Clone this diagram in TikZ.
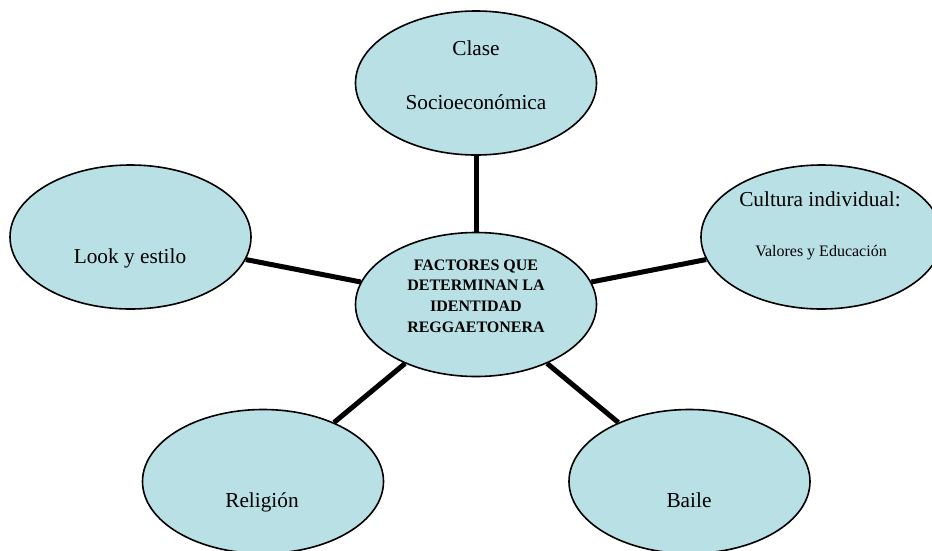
\documentclass[tikz,border=0pt]{standalone}
\usepackage{fontspec}
\setmainfont{Liberation Serif}
\usetikzlibrary{shapes.geometric}
\definecolor{bubblefill}{RGB}{185,224,228}
\begin{document}
\begin{tikzpicture}[x=1pt,y=-1pt,
  bubble/.style={ellipse, draw=black, line width=1.6pt, fill=bubblefill,
    minimum width=241pt, minimum height=144pt, inner sep=0pt},
  link/.style={line width=5pt, draw=black},
  big/.style={font=\fontsize{21.3}{25}\selectfont, anchor=base, inner sep=0pt},
  small/.style={font=\fontsize{16}{19}\selectfont, anchor=base, inner sep=0pt},
  core/.style={font=\fontsize{16}{20.7}\selectfont\bfseries, align=center,
    anchor=north, inner sep=0pt}]
\useasboundingbox (0,0) rectangle (932,550);
\clip (0,0) rectangle (932,550);
\fill[white] (0,0) rectangle (932,550);

% outer bubbles and the central one
\node[bubble] (clase)   at (476,83)    {};
\node[bubble] (centro)  at (476,304.5) {};
\node[bubble] (look)    at (130.5,237) {};
\node[bubble] (cultura) at (821.5,237) {};
\node[bubble] (religion) at (263,481.5) {};
\node[bubble] (baile)   at (689.5,481.5) {};

% spokes from the centre to each factor
\draw[link] (centro) -- (clase);
\draw[link] (centro) -- (look);
\draw[link] (centro) -- (cultura);
\draw[link] (centro) -- (religion);
\draw[link] (centro) -- (baile);

% labels
\node[big] (tClase) at (476,55) {Clase};
\node[big] (tSocio) at (476,109) {Socioeconómica};
\node[big] (tLook) at (130,263) {Look y estilo};
\node[big] (tCultura) at (820,206) {Cultura individual:};
\node[small] (tValores) at (821,256) {Valores y Educación};
\node[big] (tReligion) at (262,507) {Religión};
\node[big] (tBaile) at (689,507) {Baile};
\node[core] (tCentro) at (476,259.4)
  {FACTORES QUE\\DETERMINAN LA\\IDENTIDAD\\REGGAETONERA};
\end{tikzpicture}
\end{document}
